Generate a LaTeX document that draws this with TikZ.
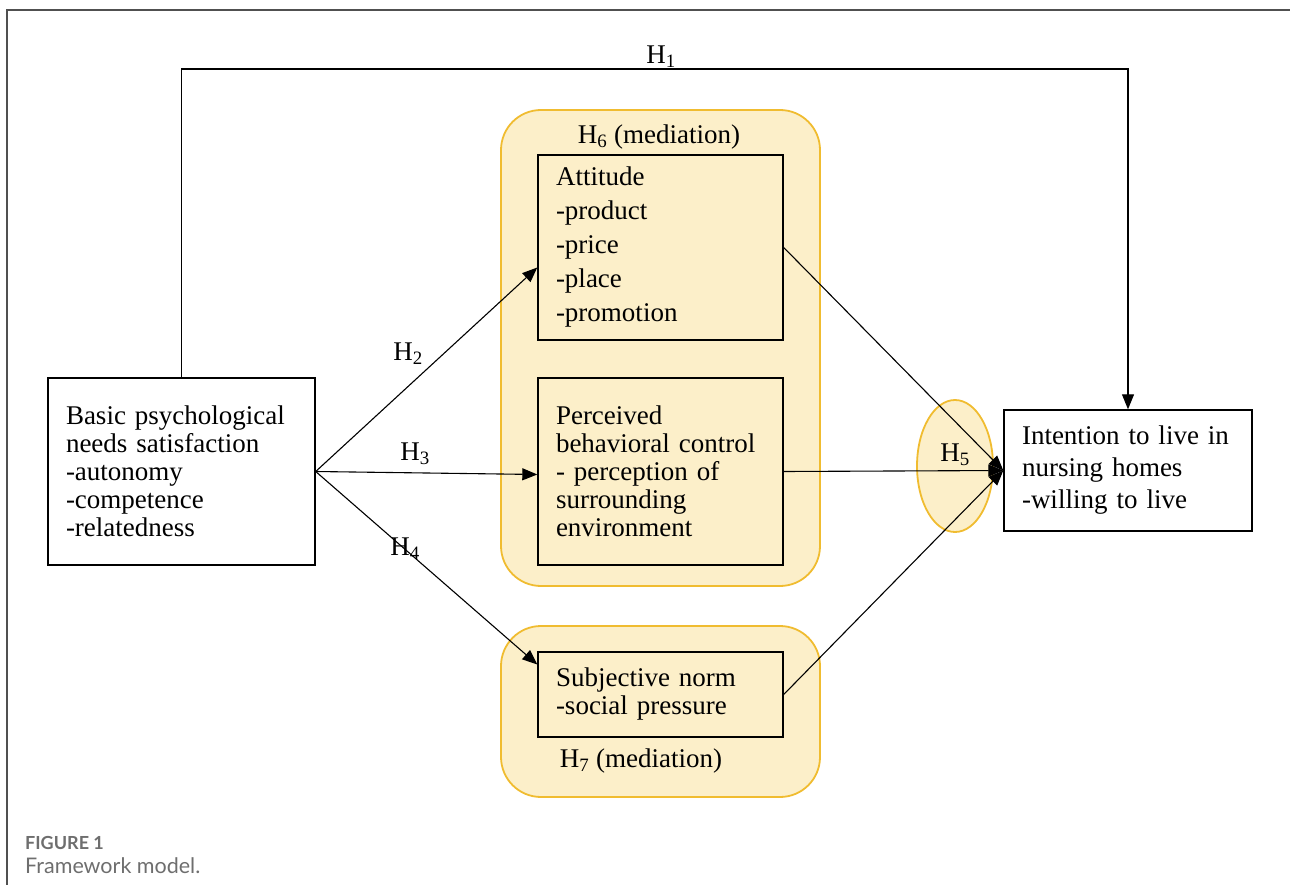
\documentclass[tikz,border=0pt]{standalone}
\usepackage{fontspec}
\setmainfont{Liberation Serif}
\newfontfamily\capfont{Lato}
\usetikzlibrary{shapes.geometric,arrows.meta,calc}
\definecolor{yfill}{RGB}{252,239,201}
\definecolor{yline}{RGB}{240,188,48}
\definecolor{frameg}{RGB}{80,80,80}
\definecolor{capg}{RGB}{110,110,110}
\begin{document}
\begin{tikzpicture}[x=1pt,y=-1pt,
  box/.style={draw=black,line width=1.4pt,rectangle,align=left,inner xsep=18pt,inner ysep=0pt,font=\fontsize{27}{28}\selectfont},
  grp/.style={draw=yline,fill=yfill,line width=1.8pt,rounded corners=40pt},
  conn/.style={line width=1.1pt,-{Triangle[length=15pt,width=12pt]}},
  lbl/.style={font=\fontsize{27}{28}\selectfont,inner sep=0pt}]
\useasboundingbox (0,0) rectangle (1290,885);
\draw[frameg,line width=1.5pt] (7,885) -- (7,10) -- (1290,10);
% groups
\draw[grp] (501,110) rectangle (820,586);
\draw[grp] (501,626) rectangle (820,797);
\node[ellipse,draw=yline,fill=yfill,line width=1.8pt,minimum width=76pt,minimum height=132pt,inner sep=0pt] (ell) at (955,466) {};
% boxes
\node[box,fill=white,minimum width=267pt,minimum height=187pt,text width=231pt] (basic) at (181.5,471.5) {Basic psychological\\needs satisfaction\\-autonomy\\-competence\\-relatedness};
\node[box,minimum width=245pt,minimum height=185pt,text width=209pt,font=\fontsize{27}{34}\selectfont] (att) at (660.5,247.5) {Attitude\\-product\\-price\\-place\\-promotion};
\node[box,minimum width=245pt,minimum height=187pt,text width=209pt] (pbc) at (660.5,471.5) {Perceived\\behavioral control\\- perception of\\surrounding\\environment};
\node[box,minimum width=245pt,minimum height=85pt,text width=209pt,font=\fontsize{27}{28}\selectfont] (sub) at (660.5,694.5) {Subjective norm\\-social pressure};
\node[box,fill=white,minimum width=248pt,minimum height=121pt,text width=212pt,font=\fontsize{27}{32}\selectfont] (int) at (1128,470.5) {Intention to live in\\nursing homes\\-willing to live};
% labels
\node[lbl] (h6) at (659,137) {H\textsubscript{6} (mediation)};
\node[lbl] (h7) at (641,761) {H\textsubscript{7} (mediation)};
\node[lbl] (h5) at (955,455) {H\textsubscript{5}};
\coordinate (h1top) at (655,69);
\node[lbl] (h1) at (661,57) {H\textsubscript{1}};
\node[lbl] (h2) at (408,354) {H\textsubscript{2}};
\node[lbl] (h3) at (415,454) {H\textsubscript{3}};
\node[lbl] (h4) at (405,549) {H\textsubscript{4}};
% connectors
\draw[conn] (basic.north) |- (h1top) -| (int.north);
\draw[conn] (basic.east) -- ([yshift=-20pt]att.west);
\draw[conn] (basic.east) -- ([yshift=-3pt]pbc.west);
\draw[conn] (basic.east) -- ([yshift=30pt]sub.west);
\draw[conn] (att.east) -- (int.west);
\draw[conn] (pbc.east) -- (int.west);
\draw[conn] (sub.east) -- (int.west);
% caption
\node[anchor=base west,inner sep=0pt,text=capg,font=\capfont\bfseries\fontsize{18}{20}\selectfont] (cap1) at (25,849) {FIGURE 1};
\node[anchor=base west,inner sep=0pt,text=capg,font=\capfont\fontsize{21.5}{24}\selectfont] (cap2) at (25,873) {Framework model.};
\end{tikzpicture}
\end{document}
